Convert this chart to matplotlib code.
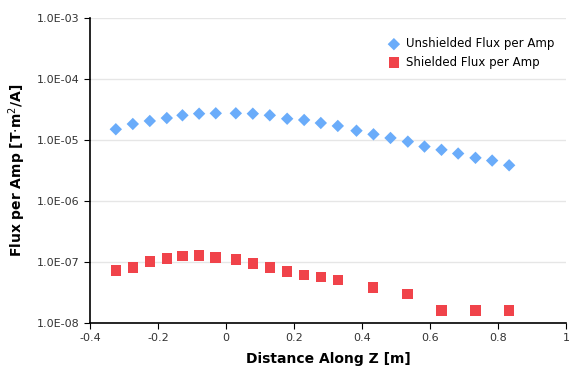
import matplotlib.pyplot as plt
from matplotlib.ticker import FixedLocator, FuncFormatter

# data
z_unshielded = [-0.324, -0.274, -0.224, -0.174, -0.128, -0.079, -0.030, 0.029,
                0.079, 0.129, 0.180, 0.230, 0.279, 0.329, 0.384, 0.434,
                0.484, 0.535, 0.584, 0.634, 0.683, 0.734, 0.783, 0.833]
flux_unshielded = [1.50e-5, 1.83e-5, 2.05e-5, 2.29e-5, 2.54e-5, 2.70e-5, 2.74e-5, 2.74e-5,
                   2.70e-5, 2.54e-5, 2.23e-5, 2.13e-5, 1.90e-5, 1.70e-5, 1.42e-5, 1.24e-5,
                   1.08e-5, 9.4e-6, 7.8e-6, 6.9e-6, 6.0e-6, 5.1e-6, 4.6e-6, 3.85e-6]

z_shielded = [-0.324, -0.274, -0.224, -0.174, -0.128, -0.079, -0.030, 0.029,
              0.079, 0.129, 0.180, 0.230, 0.279, 0.329, 0.433, 0.534,
              0.634, 0.734, 0.833]
flux_shielded = [7.2e-8, 8.1e-8, 1.01e-7, 1.13e-7, 1.25e-7, 1.27e-7, 1.19e-7, 1.11e-7,
                 9.5e-8, 8.1e-8, 7.0e-8, 6.1e-8, 5.7e-8, 5.1e-8, 3.85e-8, 3.0e-8,
                 1.59e-8, 1.59e-8, 1.59e-8]

x_ticks = [-0.4, -0.2, 0, 0.2, 0.4, 0.6, 0.8, 1]
x_labels = ['-0.4', '-0.2', '0', '0.2', '0.4', '0.6', '0.8', '1']
y_ticks = [1e-8, 1e-7, 1e-6, 1e-5, 1e-4, 1e-3]

fig = plt.figure(figsize=(5.79, 3.71), dpi=100)
ax = fig.add_axes([0.1554, 0.1294, 0.822, 0.8221])

ax.scatter(z_unshielded, flux_unshielded, marker='D', s=40, color='#6aacfa',
           edgecolors='none', label='Unshielded Flux per Amp', zorder=3)
ax.scatter(z_shielded, flux_shielded, marker='s', s=58, color='#f0434a',
           edgecolors='none', label='Shielded Flux per Amp', zorder=3)

ax.set_yscale('log')
ax.set_ylim(1e-8, 1e-3)
ax.set_xlim(-0.4, 1)
ax.yaxis.set_major_locator(FixedLocator(y_ticks))
ax.yaxis.set_minor_locator(FixedLocator([]))
ax.yaxis.set_major_formatter(FuncFormatter(lambda v, p: f"{v:.1E}"))
ax.set_xticks(x_ticks)
ax.set_xticklabels(x_labels)

ax.grid(axis='y', color='#e6e6e6', linewidth=1)
ax.set_axisbelow(True)
for s in ['top', 'right']:
    ax.spines[s].set_visible(False)
for s in ['left', 'bottom']:
    ax.spines[s].set_color('black')
    ax.spines[s].set_linewidth(1.2)
ax.tick_params(axis='both', direction='out', length=4, labelsize=8,
               colors='black', labelcolor='#333333')

ax.set_xlabel('Distance Along Z [m]', fontsize=10, fontweight='bold', labelpad=6)
ax.set_ylabel('Flux per Amp [T$\\cdot$m$^2$/A]', fontsize=10, fontweight='bold', labelpad=6)

ax.legend(loc='upper right', bbox_to_anchor=(0.99, 0.96), frameon=False, fontsize=8.5,
          handletextpad=0.0, labelspacing=0.45, borderaxespad=0.2)

fig.savefig('out.png', dpi=100)
